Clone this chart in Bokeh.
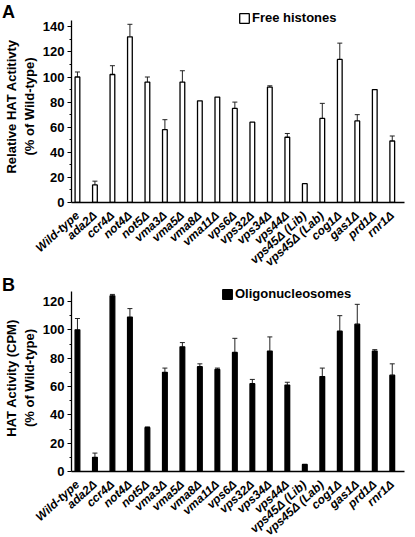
from bokeh.plotting import figure
from bokeh.models import (ColumnDataSource, Whisker, TeeHead, FixedTicker,
                          Legend, LegendItem, Div)
from bokeh.layouts import column
from bokeh.embed import file_html
from bokeh.resources import INLINE

categories = ["Wild-type", "ada2\u0394", "ccr4\u0394", "not4\u0394", "not5\u0394",
              "vma3\u0394", "vma5\u0394", "vma8\u0394", "vma11\u0394", "vps6\u0394",
              "vps32\u0394", "vps34\u0394", "vps44\u0394", "vps45\u0394 (Lib)",
              "vps45\u0394 (Lab)", "cog1\u0394", "gas1\u0394", "prd1\u0394", "rnr1\u0394"]

free_histones = [100, 14, 102, 132, 96, 58, 96, 81, 84, 75, 64, 92, 52, 15, 67, 114, 65, 90, 49]
free_histones_err = [4, 3, 7, 10, 4, 8, 9, 0, 0, 5, 0, 1, 3, 0, 12, 13, 5, 0, 4]

oligo = [100, 10, 124, 109, 31, 70, 88, 74, 72, 84, 62, 85, 61, 5, 67, 99, 104, 85, 68]
oligo_err = [8, 3, 1, 6, 0.5, 3, 3, 2, 1, 10, 3, 10, 2, 0, 6, 11, 14, 1, 8]

FONT = "Liberation Sans"


def make_panel(values, errs, axis_top, y_end, yticks, title, legend_text, fill,
               top_border, frame_h, leg_x, leg_y):
    xs = list(range(len(categories)))
    p = figure(frame_width=333, frame_height=frame_h, output_backend="svg",
               toolbar_location=None, x_range=(-0.34, 18.7), y_range=(0, y_end),
               min_border_left=64, min_border_right=2, min_border_top=top_border,
               min_border_bottom=0, border_fill_color=None,
               background_fill_color=None)
    src = ColumnDataSource(dict(x=xs, top=values))
    r = p.vbar(x="x", top="top", width=0.27, source=src, fill_color=fill,
               line_color="black", line_width=1.3)

    ex = [x for x, e in zip(xs, errs) if e > 0]
    ev = [v for v, e in zip(values, errs) if e > 0]
    eu = [v + e for v, e in zip(values, errs) if e > 0]
    esrc = ColumnDataSource(dict(x=ex, lower=ev, upper=eu))
    w = Whisker(base="x", lower="lower", upper="upper", source=esrc,
                line_color="#222222", line_width=1,
                upper_head=TeeHead(size=5, line_color="#222222", line_width=1),
                lower_head=None)
    p.add_layout(w)

    p.xgrid.visible = False
    p.ygrid.visible = False
    p.outline_line_color = None

    p.xaxis.ticker = FixedTicker(ticks=xs)
    p.xaxis.major_label_overrides = {i: c for i, c in enumerate(categories)}
    p.xaxis.major_label_orientation = 0.74
    p.xaxis.major_label_text_font = FONT
    p.xaxis.major_label_text_font_style = "bold italic"
    p.xaxis.major_label_text_font_size = "12px"
    p.xaxis.major_label_text_color = "black"
    p.xaxis.major_label_standoff = 5
    p.xaxis.major_tick_line_color = None
    p.xaxis.minor_tick_line_color = None
    p.xaxis.axis_line_color = "black"
    p.xaxis.axis_line_width = 1.3

    p.yaxis.bounds = (0, axis_top)
    p.yaxis.ticker = FixedTicker(ticks=yticks,
                                 minor_ticks=[t + 10 for t in yticks if t + 10 < axis_top])
    p.yaxis.major_label_text_font = FONT
    p.yaxis.major_label_text_font_style = "bold"
    p.yaxis.major_label_text_font_size = "13px"
    p.yaxis.major_label_text_color = "black"
    p.yaxis.major_label_standoff = 3
    p.yaxis.major_tick_out = 4
    p.yaxis.major_tick_in = 0
    p.yaxis.minor_tick_out = 2
    p.yaxis.minor_tick_in = 0
    p.yaxis.axis_line_color = "black"
    p.yaxis.axis_line_width = 1.3
    p.yaxis.axis_label = title
    p.yaxis.axis_label_text_font = FONT
    p.yaxis.axis_label_text_font_style = "bold"
    p.yaxis.axis_label_text_font_size = "13px"
    p.yaxis.axis_label_text_color = "black"
    p.yaxis.axis_label_standoff = 3

    legend = Legend(items=[LegendItem(label=legend_text, renderers=[r])],
                    location=(leg_x, leg_y), orientation="horizontal",
                    glyph_width=12, glyph_height=12, label_standoff=2,
                    padding=0, margin=0, border_line_color=None,
                    background_fill_alpha=0,
                    label_text_font=FONT, label_text_font_style="bold",
                    label_text_font_size="13px", label_text_color="black")
    p.add_layout(legend)
    return p


pA = make_panel(free_histones, free_histones_err, 145, 153,
                [0, 20, 40, 60, 80, 100, 120, 140],
                "Relative HAT Actitivty\n(% of Wild-type)", "Free histones", "white",
                7, 192, 167, 177)
pB = make_panel(oligo, oligo_err, 127, 132,
                [0, 20, 40, 60, 80, 100, 120],
                "HAT Activity (CPM)\n(% of Wild-type)", "Oligonucleosomes", "black",
                8, 187, 150, 170)


def panel_letter(letter, pad_top, shift_up):
    return Div(text=letter, width=20, height=0, margin=(-shift_up, 0, 0, 0),
               styles={"font-family": "Liberation Sans", "font-weight": "bold",
                       "font-size": "18px", "line-height": "18px", "color": "black",
                       "overflow": "visible", "padding-left": "2px",
                       "padding-top": f"{pad_top}px", "z-index": "10"})


layout = column(panel_letter("A", 3, 0), pA, panel_letter("B", 12, 13), pB, spacing=0)
open("out.html", "w").write(file_html(layout, INLINE))
